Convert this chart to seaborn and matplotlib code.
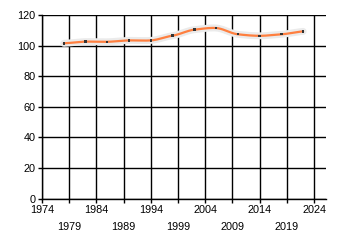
import numpy as np
import pandas as pd
import matplotlib
matplotlib.use("Agg")
import matplotlib.pyplot as plt
import seaborn as sns
from matplotlib.ticker import FixedLocator, FixedFormatter

# ---- data ----
years = [1978, 1982, 1986, 1990, 1994, 1998, 2002, 2006, 2010, 2014, 2018, 2022]
values = [101.5, 102.6, 102.5, 103.4, 103.4, 106.5, 110.4, 111.5, 107.4, 106.4, 107.4, 109.3]
xtick_major = [1974, 1984, 1994, 2004, 2014, 2024]
xtick_minor = [1979, 1989, 1999, 2009, 2019]
ytick_values = [0, 20, 40, 60, 80, 100, 120]


def smooth(x, y, n=25, tension=0.6):
    x = np.asarray(x, float)
    y = np.asarray(y, float)
    m = np.empty_like(y)
    m[1:-1] = (y[2:] - y[:-2]) / (x[2:] - x[:-2])
    m[0] = (y[1] - y[0]) / (x[1] - x[0])
    m[-1] = (y[-1] - y[-2]) / (x[-1] - x[-2])
    m *= tension
    xs, ys = [], []
    for i in range(len(x) - 1):
        h = x[i + 1] - x[i]
        t = np.linspace(0, 1, n, endpoint=(i == len(x) - 2))
        h00 = 2 * t**3 - 3 * t**2 + 1
        h10 = t**3 - 2 * t**2 + t
        h01 = -2 * t**3 + 3 * t**2
        h11 = t**3 - t**2
        xs.append(x[i] + t * h)
        ys.append(h00 * y[i] + h10 * h * m[i] + h01 * y[i + 1] + h11 * h * m[i + 1])
    return np.concatenate(xs), np.concatenate(ys)


sns.set_style("white")
plt.rcParams["font.family"] = ["Liberation Sans", "DejaVu Sans"]

fig = plt.figure(figsize=(3.4, 2.45), dpi=100)
ax = fig.add_axes([42 / 340, 1 - 198.7 / 245, 284 / 340, (198.7 - 15) / 245])

df = pd.DataFrame({"year": years, "value": values})
sx, sy = smooth(years, values)
sdf = pd.DataFrame({"x": sx, "y": sy})

sns.lineplot(data=sdf, x="x", y="y", ax=ax, color="#ebebeb", linewidth=5.0,
             sort=False, estimator=None)
sns.lineplot(data=sdf, x="x", y="y", ax=ax, color="#ff7f3f", linewidth=1.6,
             sort=False, estimator=None)
sns.scatterplot(data=df, x="year", y="value", ax=ax, marker="s", s=3,
                color="#333333", edgecolor="none", zorder=5)

ax.set_xlim(1974, 2026.2)
ax.set_ylim(0, 120)
ax.set_xlabel("")
ax.set_ylabel("")

ax.xaxis.set_major_locator(FixedLocator(xtick_major))
ax.xaxis.set_major_formatter(FixedFormatter([str(v) for v in xtick_major]))
ax.xaxis.set_minor_locator(FixedLocator(xtick_minor))
ax.xaxis.set_minor_formatter(FixedFormatter([str(v) for v in xtick_minor]))
ax.set_yticks(ytick_values)
ax.set_yticklabels([str(v) for v in ytick_values])

ax.set_axisbelow(True)
ax.grid(True, which="both", axis="x", color="black", linewidth=1)
ax.grid(True, which="major", axis="y", color="black", linewidth=1)

for s in ["top", "right"]:
    ax.spines[s].set_visible(False)
for s in ["left", "bottom"]:
    ax.spines[s].set_color("black")
    ax.spines[s].set_linewidth(1)

ax.tick_params(axis="both", which="both", direction="out", length=3, width=1,
               color="black", labelsize=7.8, labelcolor="black")
ax.tick_params(axis="x", which="major", pad=1.5)
ax.tick_params(axis="x", which="minor", pad=13.5)
ax.tick_params(axis="y", pad=1.5)
ax.tick_params(left=True, bottom=True)
ax.tick_params(axis="x", which="minor", bottom=True)

fig.savefig("out.png", dpi=100)
